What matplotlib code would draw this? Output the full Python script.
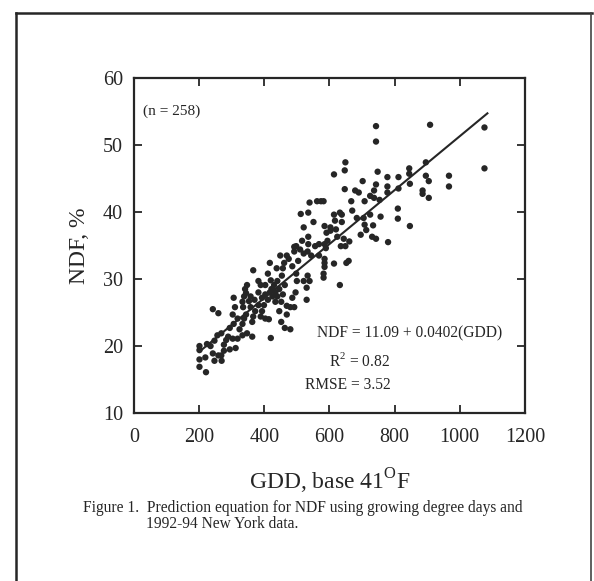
import numpy as np
import matplotlib
matplotlib.use("Agg")
import matplotlib.pyplot as plt
from matplotlib.lines import Line2D

plt.rcParams["font.family"] = ["Liberation Serif", "DejaVu Serif"]
plt.rcParams["mathtext.fontset"] = "custom"
plt.rcParams["mathtext.rm"] = "Liberation Serif"

# GDD (base 41 F) and NDF (%)
gdd = [1076, 1076, 909, 743, 743, 967, 967, 896, 896, 905, 886, 886, 905,
       845, 845, 847, 812, 812, 778, 778, 778, 810, 810, 847, 780, 748, 743,
       737, 737, 754, 725, 708, 757, 725, 705, 708, 734, 731, 743, 713, 696,
       702, 679, 690, 667, 670, 684, 649, 647, 614, 647, 632, 614, 617, 638,
       603, 585, 591, 624, 644, 649, 635, 661, 659, 652, 632, 614, 585, 585,
       585, 582, 582, 589, 585, 574, 582, 562, 539, 535, 512, 551, 521, 535,
       535, 516, 498, 492, 510, 521, 533, 544, 568, 556, 504, 533, 539, 521,
       530, 530, 500, 496, 486, 492, 480, 480, 463, 469, 452, 446, 452, 457,
       463, 454, 438, 457, 449, 417, 411, 420, 440, 430, 428, 446, 403, 403,
       417, 393, 393, 403, 414, 420, 389, 382, 370, 358, 372, 389, 363, 363,
       347, 333, 324, 333, 338, 344, 335, 333, 338, 341, 347, 366, 344, 306,
       310, 303, 318, 306, 294, 289, 303, 312, 283, 268, 256, 242, 259, 247,
       242, 259, 268, 269, 247, 219, 201, 201, 201, 201, 221, 224, 235, 276,
       294, 276, 568, 594, 603, 620, 638, 492, 469, 475, 461, 486, 498, 422,
       434, 440, 425, 411, 434, 469, 399, 382, 382, 358, 353, 366, 318]
ndf = [52.6, 46.5, 53.0, 52.8, 50.5, 45.4, 43.8, 47.4, 45.4, 44.6, 43.2, 42.7,
       42.1, 46.5, 45.7, 44.2, 45.2, 43.5, 45.2, 43.8, 42.9, 40.5, 39.0, 37.9,
       35.5, 46.0, 44.1, 43.2, 42.1, 41.8, 42.4, 41.6, 39.3, 39.6, 39.1, 38.1,
       38.0, 36.3, 36.0, 37.3, 36.6, 44.6, 43.2, 42.9, 41.6, 40.2, 39.1, 47.4,
       46.2, 45.6, 43.4, 39.9, 39.6, 38.7, 38.5, 37.7, 37.9, 36.9, 36.3, 36.0,
       34.9, 34.9, 35.6, 32.7, 32.4, 29.1, 32.3, 33.0, 32.4, 31.8, 30.8, 30.2,
       34.6, 35.2, 41.6, 41.6, 41.6, 41.4, 39.9, 39.7, 38.5, 37.7, 36.3, 35.2,
       35.7, 34.9, 34.1, 34.4, 33.8, 34.1, 33.5, 33.5, 34.9, 32.7, 30.5, 29.7,
       29.7, 28.7, 26.9, 29.7, 28.0, 27.2, 25.8, 25.8, 22.5, 22.7, 24.7, 23.6,
       25.2, 26.6, 27.7, 29.1, 30.5, 31.6, 31.6, 33.5, 32.4, 30.8, 29.8, 29.7,
       29.1, 28.3, 28.5, 29.1, 27.7, 28.0, 27.2, 25.2, 24.1, 24.0, 21.2, 29.1,
       28.0, 26.9, 25.8, 25.2, 24.4, 23.6, 21.4, 21.9, 21.6, 22.5, 23.3, 24.1,
       24.7, 25.8, 26.6, 27.4, 28.5, 29.1, 31.3, 27.9, 27.2, 25.8, 24.7, 24.1,
       23.3, 22.7, 21.4, 21.1, 19.7, 20.9, 21.9, 21.6, 25.5, 24.9, 20.8, 18.9,
       18.6, 18.6, 17.8, 17.8, 18.3, 20.0, 19.4, 18.0, 16.9, 16.1, 20.3, 20.0,
       20.2, 19.5, 19.3, 35.2, 35.7, 37.2, 37.4, 39.6, 34.8, 33.5, 33.0, 32.4,
       31.9, 30.8, 28.5, 28.0, 27.4, 27.4, 26.9, 26.6, 26.0, 26.1, 26.1, 29.7,
       27.4, 26.7, 24.4, 21.1]

intercept = 11.09
slope = 0.0402
fit_range = [200, 1085]

ink = "#262626"

fig = plt.figure(figsize=(5.94, 5.81), dpi=100)
ax = fig.add_axes([0.2256, 0.289, 0.658, 0.577])

ax.scatter(gdd, ndf, s=21, color=ink, edgecolors="none", zorder=3)
xf = np.array(fit_range)
ax.plot(xf, intercept + slope * xf, color=ink, lw=1.5, zorder=2)

ax.set_xlim(0, 1200)
ax.set_ylim(10, 60)
ax.set_xticks(range(0, 1201, 200))
ax.set_yticks(range(10, 61, 10))
ax.tick_params(direction="in", length=6, width=1.3, labelsize=14.5,
               colors=ink, top=True, right=True)
ax.tick_params(axis="x", pad=11)
ax.tick_params(axis="y", pad=8)
for sp in ax.spines.values():
    sp.set_linewidth(1.6)
    sp.set_color(ink)

ax.set_xlabel(r"GDD, base 41$^{\mathrm{O}}$F", fontsize=17, labelpad=14, color=ink)
ax.set_ylabel("NDF, %", fontsize=17, labelpad=9, color=ink)

ax.text(0.022, 0.899, "(n = 258)", transform=ax.transAxes, fontsize=11,
        va="center", color=ink)
ax.text(0.706, 0.239, "NDF = 11.09 + 0.0402(GDD)", transform=ax.transAxes,
        fontsize=11.2, ha="center", va="center", color=ink)
ax.text(0.578, 0.155, r"R$^{2}$ = 0.82", transform=ax.transAxes,
        fontsize=11.2, ha="center", va="center", color=ink)
ax.text(0.548, 0.084, "RMSE = 3.52", transform=ax.transAxes,
        fontsize=11.2, ha="center", va="center", color=ink)

fig.text(0.14, 0.1256, "Figure 1.  Prediction equation for NDF using growing degree days and",
         fontsize=11.2, va="center", color=ink)
fig.text(0.246, 0.098, "1992-94 New York data.", fontsize=11.2, va="center", color=ink)

# page border from the scan
fig.add_artist(Line2D([0.027, 0.027], [0.0, 0.977], color=ink, lw=1.8))
fig.add_artist(Line2D([0.027, 0.997], [0.977, 0.977], color=ink, lw=1.8))
fig.add_artist(Line2D([0.995, 0.995], [0.0, 0.977], color="#444444", lw=1.2))

fig.savefig("out.png", dpi=100)
